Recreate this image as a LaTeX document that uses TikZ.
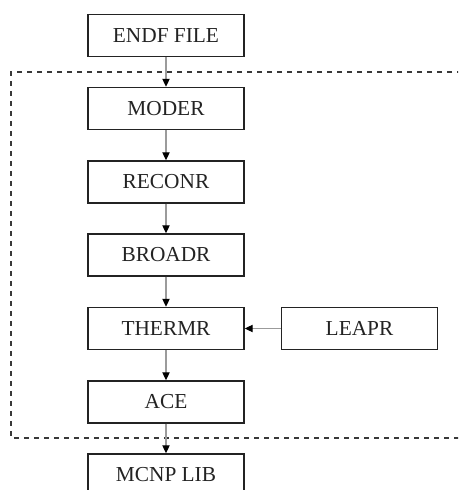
\documentclass[tikz,border=0pt]{standalone}
\usepackage{fontspec}
\setmainfont{Liberation Serif}
\usetikzlibrary{arrows.meta}
\definecolor{linegray}{RGB}{155,155,155}
\definecolor{boxblack}{RGB}{35,35,35}

\begin{document}
\begin{tikzpicture}[x=0.75pt,y=-0.75pt,
  every node/.style={rectangle,draw=boxblack,text=boxblack,line width=1.1pt,minimum width=117pt,minimum height=31.5pt,inner sep=0pt,font=\fontsize{16}{19}\selectfont},
  flow/.style={draw=linegray,line width=0.8pt,-{Triangle[color=black,width=5.5pt,length=6pt]}}]
\clip (0,0) rectangle (458,490);
\node (endf) at (166,35.5) {ENDF FILE};
\node (moder) at (166,108.5) {MODER};
\node (reconr) at (166,182) {RECONR};
\node (broadr) at (166,255) {BROADR};
\node (thermr) at (166,328.5) {THERMR};
\node (leapr) at (359.5,328.5) {LEAPR};
\node (ace) at (166,402) {ACE};
\node (mcnp) at (166,475) {MCNP LIB};
\draw[boxblack!90,line width=1.1pt,dash pattern=on 4pt off 3.5pt] (462,72) -- (11,72) -- (11,438) -- (462,438);
\draw[flow] (endf)--(moder); \draw[flow] (moder)--(reconr); \draw[flow] (reconr)--(broadr);
\draw[flow] (broadr)--(thermr); \draw[flow] (leapr)--(thermr); \draw[flow] (thermr)--(ace); \draw[flow] (ace)--(mcnp);
\end{tikzpicture}
\end{document}
